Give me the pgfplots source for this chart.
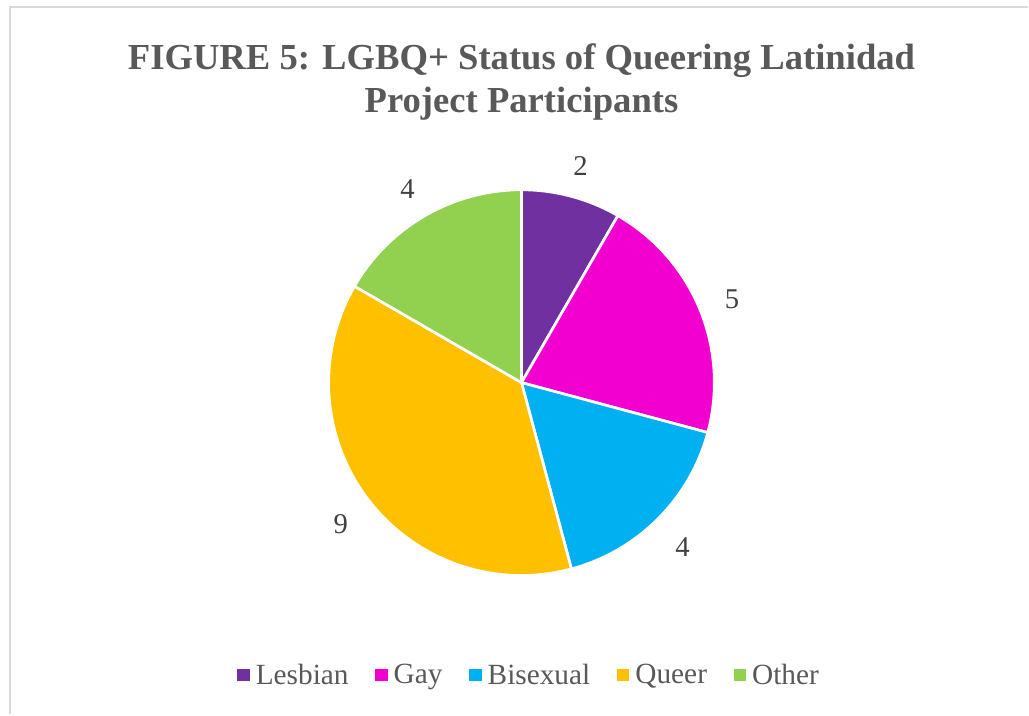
\documentclass[border=0pt]{standalone}
\usepackage{pgfplots}
\pgfplotsset{compat=1.18}
\usepackage{fontspec}
\setmainfont{Liberation Serif}
\definecolor{lesb}{HTML}{7030A0}
\definecolor{gay}{HTML}{F200CF}
\definecolor{bi}{HTML}{00B0F0}
\definecolor{queer}{HTML}{FFC000}
\definecolor{other}{HTML}{92D050}
\definecolor{titlegray}{HTML}{595959}
\definecolor{labgray}{HTML}{404040}
\definecolor{framegray}{HTML}{D9D9D9}
\begin{document}
\begin{tikzpicture}
\begin{axis}[
  x=0.75pt, y=0.75pt,
  xmin=0, xmax=1029, ymin=0, ymax=715,
  hide axis, clip=false,
  legend columns=-1,
  legend style={at={(axis description cs:0.515,0.055)}, anchor=center, draw=none,
    font=\fontsize{22}{24}\selectfont, text=titlegray,
    /tikz/every odd column/.append style={column sep=3pt},
    /tikz/every even column/.append style={column sep=18pt}},
  legend image code/.code={\fill[#1] (0pt,-4pt) rectangle (8.5pt,4.5pt);},
]
% page extent
\path (axis cs:0,0) rectangle (axis cs:1029,715);
% frame
\draw[framegray, line width=1.5pt] (axis cs:1029,708) -- (axis cs:10,708) -- (axis cs:10,0);
% title
\node[font=\bfseries\fontsize{27.5}{32.5}\selectfont, text=titlegray, align=center]
  at (axis cs:522,633) {FIGURE 5: LGBQ+ Status of Queering Latinidad\\Project Participants};
% pie
\gdef\startang{90}
\foreach \v/\c in {2/lesb,5/gay,4/bi,9/queer,4/other} {
  \pgfmathsetmacro\endang{\startang-\v*360/24}
  \pgfmathsetmacro\midang{(\startang+\endang)/2}
  \edef\temp{\noexpand\fill[\c, draw=white, line width=2pt, line join=round]
    (axis cs:522,332) -- ++(\startang:144.75pt)
    arc[start angle=\startang, end angle=\endang, radius=144.75pt] -- cycle;
    \noexpand\node[font=\noexpand\fontsize{21.5}{24}\noexpand\selectfont, text=labgray]
    at ([shift={(\midang:171pt)}, yshift=-2.5pt]axis cs:522,332) {\v};}
  \temp
  \xdef\startang{\endang}
}
\addlegendimage{lesb}\addlegendentry{Lesbian}
\addlegendimage{gay}\addlegendentry{Gay}
\addlegendimage{bi}\addlegendentry{Bisexual}
\addlegendimage{queer}\addlegendentry{Queer}
\addlegendimage{other}\addlegendentry{Other}
\end{axis}
\end{tikzpicture}
\end{document}
